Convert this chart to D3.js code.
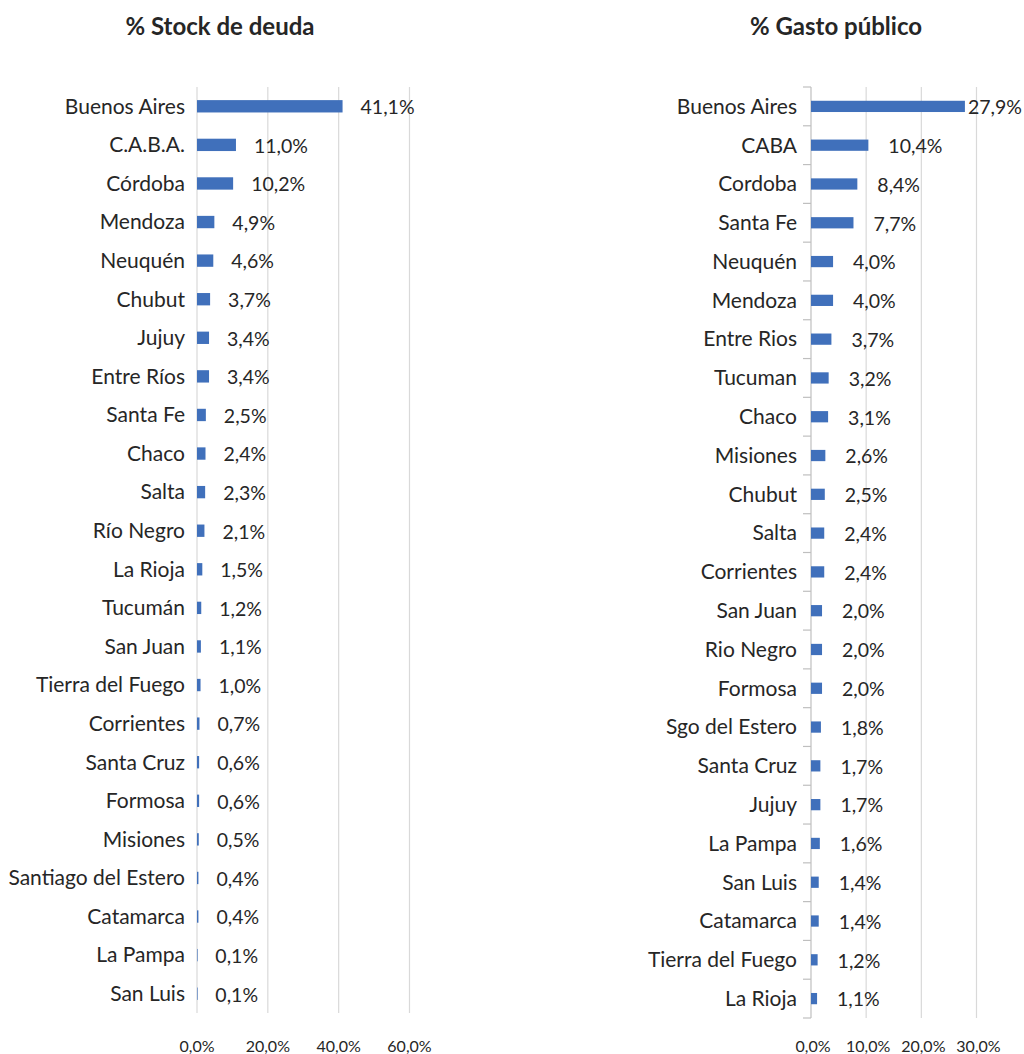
<!DOCTYPE html>
<html><head><meta charset="utf-8">
<script src="https://cdn.jsdelivr.net/npm/d3@7"></script>
<style>body{margin:0;background:#fff}svg{display:block}</style>
</head><body><svg id="c" width="1024" height="1054"></svg>
<script>
const debtCategories = ["Buenos Aires","C.A.B.A.","Córdoba","Mendoza","Neuquén","Chubut","Jujuy","Entre Ríos","Santa Fe","Chaco","Salta","Río Negro","La Rioja","Tucumán","San Juan","Tierra del Fuego","Corrientes","Santa Cruz","Formosa","Misiones","Santiago del Estero","Catamarca","La Pampa","San Luis"];
const debtValues = [41.1,11.0,10.2,4.9,4.6,3.7,3.4,3.4,2.5,2.4,2.3,2.1,1.5,1.2,1.1,1.0,0.7,0.6,0.6,0.5,0.4,0.4,0.1,0.1];
const debtTicks = [0,20,40,60];
const spendCategories = ["Buenos Aires","CABA","Cordoba","Santa Fe","Neuquén","Mendoza","Entre Rios","Tucuman","Chaco","Misiones","Chubut","Salta","Corrientes","San Juan","Rio Negro","Formosa","Sgo del Estero","Santa Cruz","Jujuy","La Pampa","San Luis","Catamarca","Tierra del Fuego","La Rioja"];
const spendValues = [27.9,10.4,8.4,7.7,4.0,4.0,3.7,3.2,3.1,2.6,2.5,2.4,2.4,2.0,2.0,2.0,1.8,1.7,1.7,1.6,1.4,1.4,1.2,1.1];
const spendTicks = [0,10,20,30];
const titles = ["% Stock de deuda","% Gasto público"];

const svg = d3.select("#c");
const FONT = "Lato, 'Open Sans', sans-serif";
const BAR = "#4070bb", GRID = "#d9d9d9", TXT = "#262626";
const fmt = v => d3.format(".1f")(v).replace(".", ",") + "%";
const W = 1024;

function panel(cfg){
  const g = svg.append("g");
  const x = d3.scaleLinear().domain(cfg.domain).range(cfg.xr);
  const y = d3.scaleBand().domain(cfg.cats).range(cfg.yr).paddingInner(cfg.pad).paddingOuter(cfg.pad/2);
  g.append("text").attr("x", cfg.titleX).attr("y", 35).attr("text-anchor","middle")
    .style("font-family",FONT).style("font-weight","bold").style("font-size","24px").attr("fill",TXT)
    .text(cfg.title);
  g.selectAll(".grid").data(cfg.ticks.filter(t => !(cfg.axisLine && t===0))).join("line")
    .attr("x1", d=>x(d)).attr("x2", d=>x(d)).attr("y1", cfg.yr[0]).attr("y2", cfg.yr[1])
    .attr("stroke", GRID).attr("stroke-width",1.2);
  if (cfg.axisLine){
    const bounds = d3.range(cfg.cats.length+1).map(i => cfg.yr[0] + i*y.step());
    g.append("line").attr("x1",x(0)).attr("x2",x(0)).attr("y1",cfg.yr[0]).attr("y2",cfg.yr[1])
      .attr("stroke","#bfbfbf").attr("stroke-width",1.2);
    g.selectAll(".tk").data(bounds).join("line")
      .attr("x1",x(0)-8).attr("x2",x(0)).attr("y1",d=>d).attr("y2",d=>d)
      .attr("stroke","#bfbfbf").attr("stroke-width",1.2);
  }
  g.selectAll(".xl").data(cfg.ticks).join("text")
    .attr("x", d=>x(d)+cfg.tickDx).attr("y", 1052).attr("text-anchor","middle")
    .style("font-family",FONT).style("font-size","16px").attr("fill",TXT)
    .text(d => d3.format(".1f")(d).replace(".",",")+"%");
  const data = cfg.cats.map((c,i)=>({c, v: cfg.vals[i]}));
  g.selectAll(".bar").data(data).join("rect")
    .attr("x", x(0)).attr("y", d=>y(d.c)).attr("width", d=>Math.max(0.6, x(d.v)-x(0)))
    .attr("height", y.bandwidth()).attr("fill", BAR);
  g.selectAll(".cl").data(data).join("text")
    .attr("x", x(0)-cfg.labelGap).attr("y", d=>y(d.c)+y.bandwidth()/2).attr("dy","0.35em")
    .attr("text-anchor","end").style("font-family",FONT).style("font-size","21px").attr("fill",TXT)
    .text(d=>d.c);
  g.selectAll(".vl").data(data).join("text")
    .attr("y", d=>y(d.c)+y.bandwidth()/2).attr("dy","0.4em")
    .style("font-family",FONT).style("font-size","19.5px").attr("fill",TXT)
    .text(d=>fmt(d.v))
    .attr("x", function(d){
      const w = this.getComputedTextLength();
      return Math.min(x(d.v)+cfg.valGap, W - w - 2);
    });
}

panel({title:titles[0], titleX:220, cats:debtCategories, vals:debtValues, ticks:debtTicks,
  domain:[0,60], xr:[197,409.5], yr:[87,1013], pad:0.68, labelGap:12, valGap:18, tickDx:0, axisLine:false});
panel({title:titles[1], titleX:836, cats:spendCategories, vals:spendValues, ticks:spendTicks,
  domain:[0,30], xr:[811,976.5], yr:[87,1018], pad:0.71, labelGap:14, valGap:20, tickDx:2, axisLine:true});
</script></body></html>
